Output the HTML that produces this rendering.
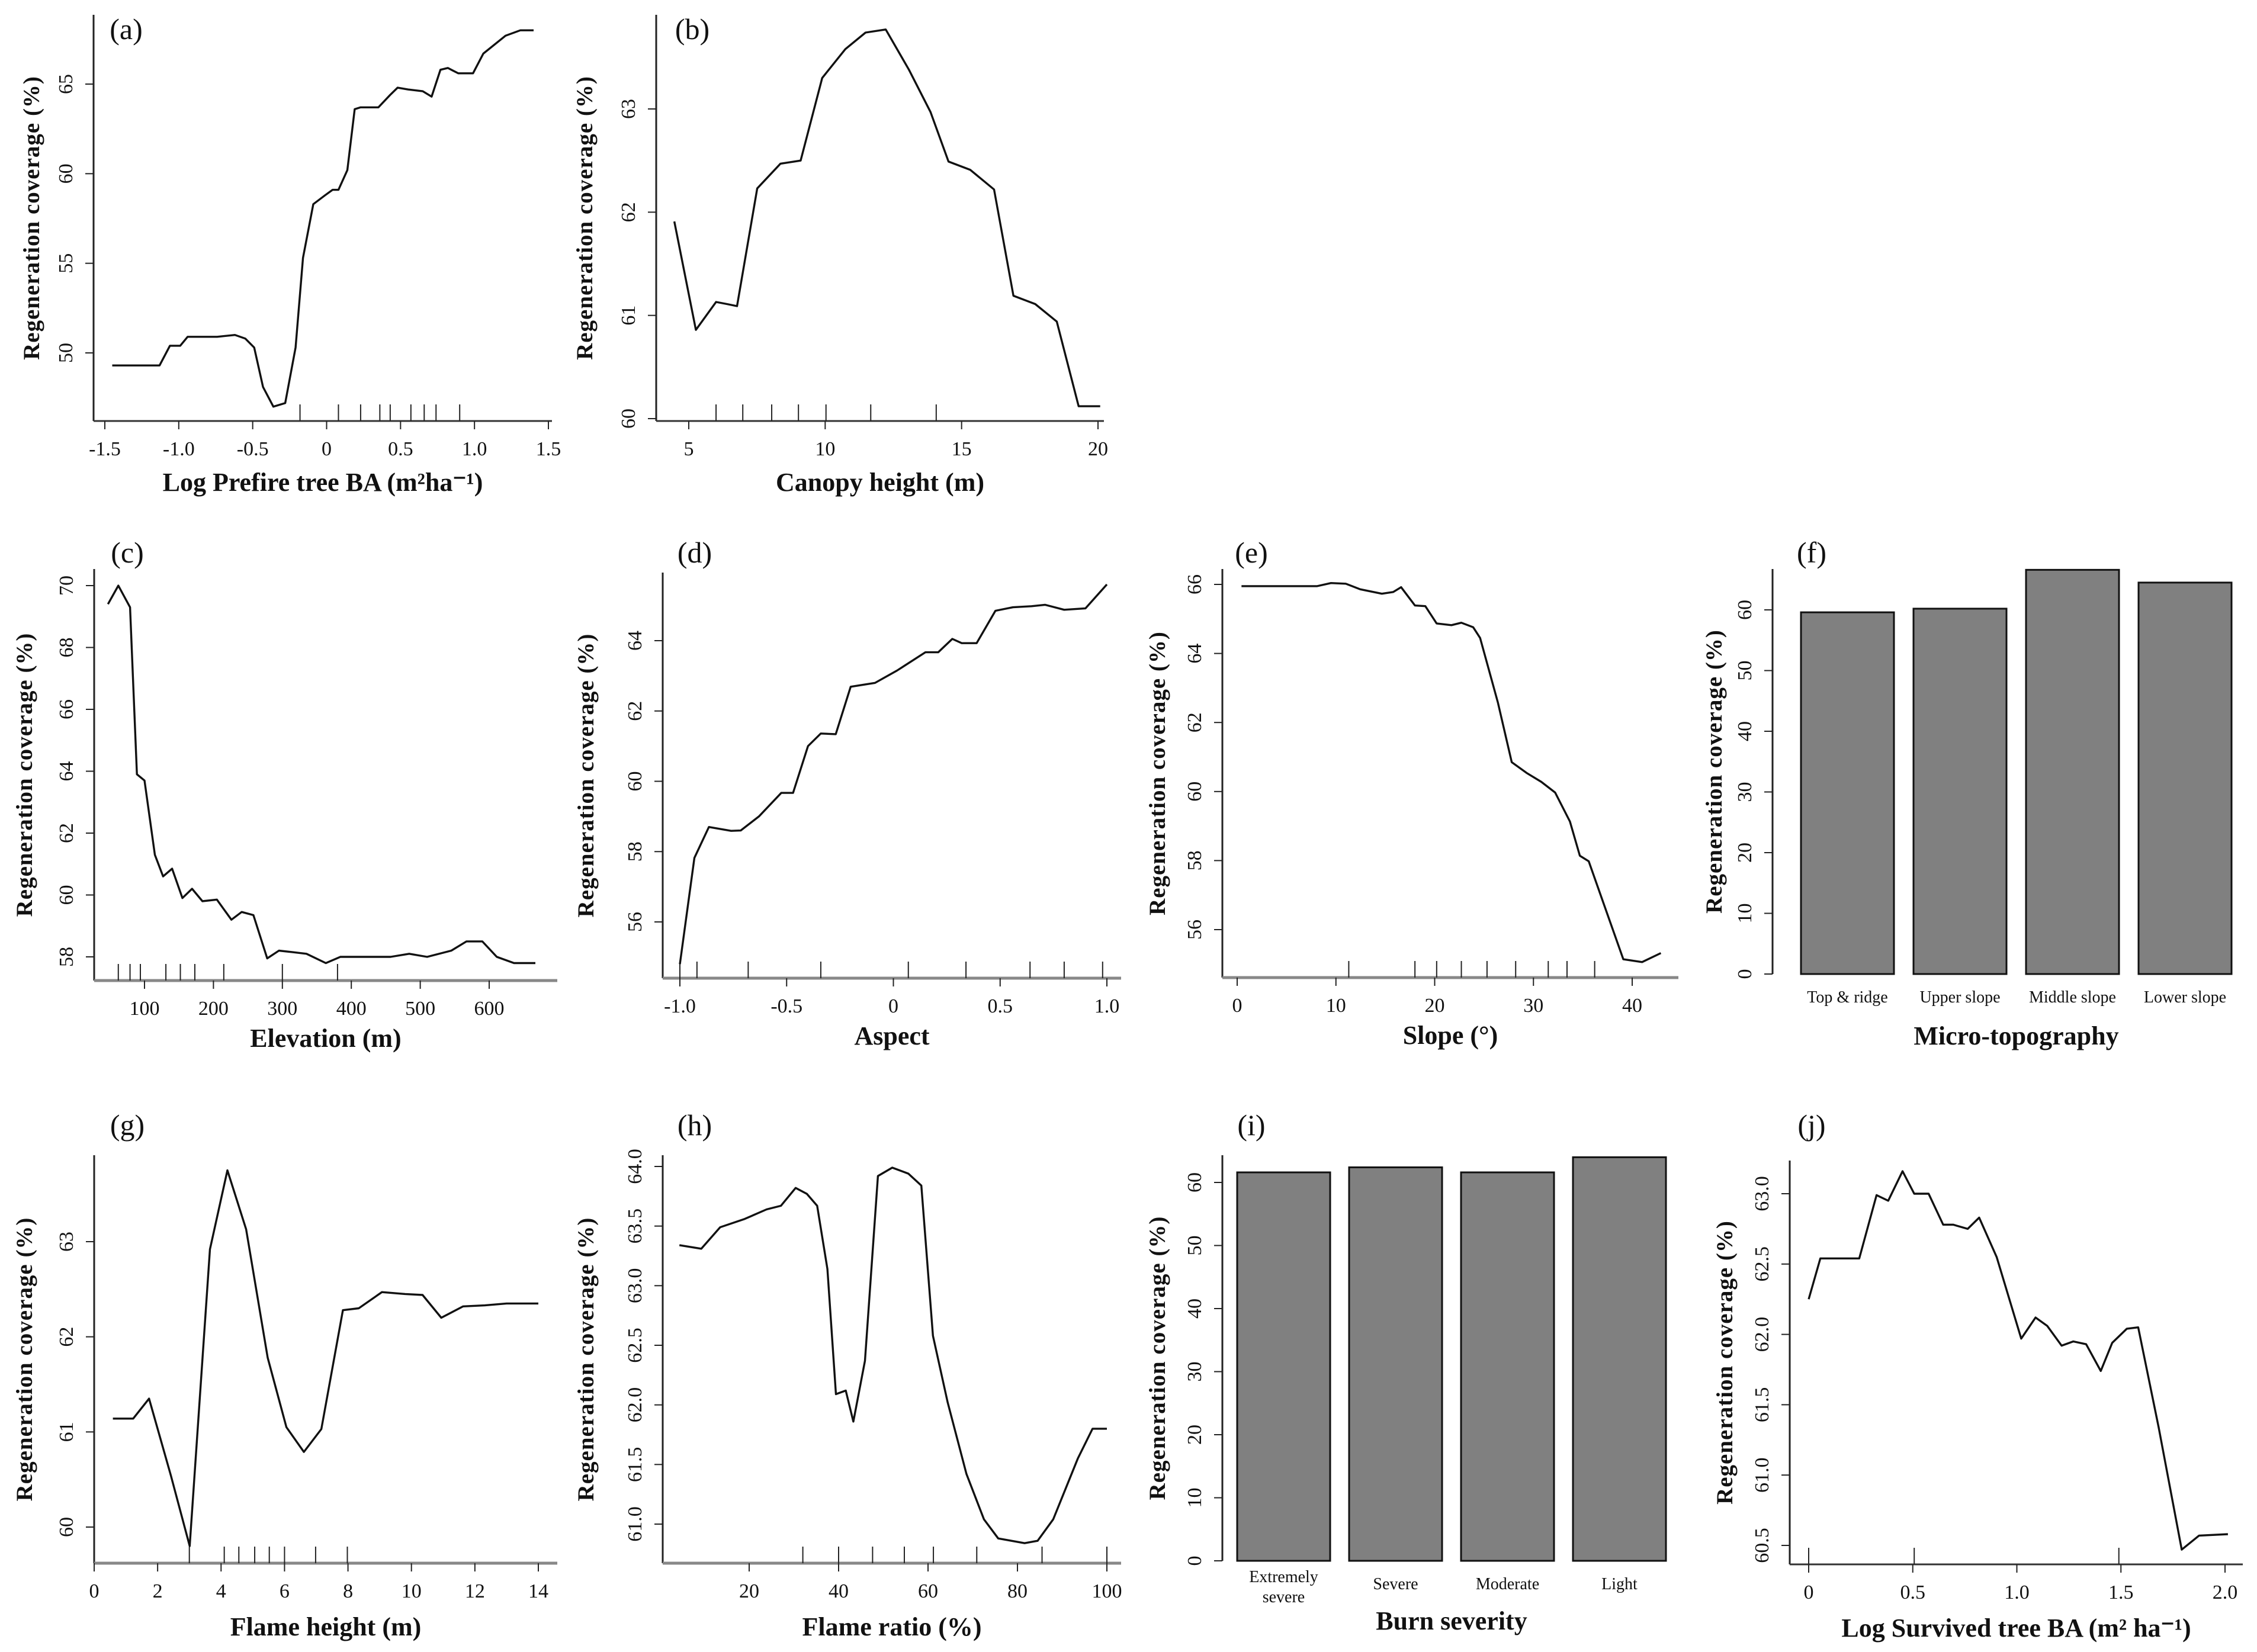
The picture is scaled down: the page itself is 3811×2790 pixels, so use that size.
<!DOCTYPE html>
<html><head><meta charset="utf-8"><style>
html,body{margin:0;padding:0;background:#fff;}
svg{display:block;}
text{font-family:"Liberation Serif",serif;fill:#111;}
.tick{font-size:34px;}
.ttl{font-size:44px;font-weight:bold;}
.ytl{font-size:39px;font-weight:bold;letter-spacing:1px;}
.plab{font-size:50px;}
.cat{font-size:28px;}
</style></head><body>
<svg id="chart" width="3811" height="2790" viewBox="0 0 3811 2790" xmlns="http://www.w3.org/2000/svg"></svg>
<script>
// ---------- data ----------
const aX=[-1.45,-1.13,-1.06,-0.99,-0.94,-0.74,-0.62,-0.55,-0.49,-0.43,-0.36,-0.28,-0.21,-0.16,-0.09,-0.01,0.04,0.08,0.14,0.19,0.23,0.35,0.43,0.48,0.55,0.65,0.71,0.77,0.82,0.89,0.99,1.06,1.21,1.31,1.40];
const aY=[49.3,49.3,50.4,50.4,50.9,50.9,51.0,50.8,50.3,48.1,47.0,47.2,50.3,55.3,58.3,58.8,59.1,59.1,60.2,63.6,63.7,63.7,64.4,64.8,64.7,64.6,64.3,65.8,65.9,65.6,65.6,66.7,67.7,68.0,68.0];
const aRug=[-0.18,0.08,0.23,0.36,0.43,0.57,0.66,0.74,0.90];
const aXTicks=[-1.5,-1.0,-0.5,0,0.5,1.0,1.5];
const aXLabels=["-1.5","-1.0","-0.5","0","0.5","1.0","1.5"];
const aYTicks=[50,55,60,65];

const bX=[4.47,5.26,6.0,6.4,6.77,7.51,8.36,9.1,9.89,10.74,11.48,12.22,13.07,13.86,14.52,15.32,16.19,16.9,17.7,18.49,19.29,20.08];
const bY=[61.91,60.86,61.13,61.11,61.09,62.23,62.47,62.5,63.3,63.58,63.74,63.77,63.38,62.97,62.49,62.41,62.22,61.19,61.11,60.94,60.12,60.12];
const bRug=[6.0,6.98,8.04,9.02,10.03,11.67,14.07];
const bXTicks=[5,10,15,20];
const bYTicks=[60,61,62,63];

const cX=[47,62,79,89,100,115,127,140,155,169,184,205,226,241,258,278,295,316,335,363,384,457,484,510,545,567,590,611,636,667];
const cY=[69.4,70.0,69.3,63.9,63.7,61.3,60.6,60.85,59.9,60.2,59.8,59.85,59.2,59.45,59.35,57.95,58.2,58.15,58.1,57.8,58.0,58.0,58.1,58.0,58.2,58.5,58.5,58.0,57.8,57.8];
const cRug=[62,79,94,131,152,173,215,300,380];
const cXTicks=[100,200,300,400,500,600];
const cYTicks=[58,60,62,64,66,68,70];

const dX=[-1.0,-0.932,-0.864,-0.76,-0.715,-0.63,-0.525,-0.47,-0.40,-0.34,-0.27,-0.20,-0.086,0.017,0.15,0.21,0.276,0.32,0.39,0.478,0.56,0.647,0.71,0.8,0.9,1.0];
const dY=[54.8,57.82,58.7,58.59,58.6,59.0,59.67,59.67,61.0,61.36,61.34,62.69,62.8,63.15,63.67,63.67,64.05,63.93,63.93,64.85,64.95,64.98,65.02,64.88,64.92,65.6];
const dRug=[-1.0,-0.92,-0.68,-0.34,0.07,0.34,0.64,0.8,0.98];
const dXTicks=[-1.0,-0.5,0,0.5,1.0];
const dXLabels=["-1.0","-0.5","0","0.5","1.0"];
const dYTicks=[56,58,60,62,64];

const eX=[0.44,8.1,9.5,11,12.45,14.65,15.8,16.6,18.0,19.05,20.2,21.7,22.7,23.9,24.6,26.4,27.8,29.3,30.8,32.2,33.7,34.7,35.6,37.4,39.1,41.0,42.9];
const eY=[65.95,65.95,66.04,66.02,65.86,65.73,65.78,65.92,65.39,65.37,64.87,64.82,64.89,64.76,64.45,62.58,60.85,60.54,60.28,59.97,59.13,58.14,57.98,56.52,55.14,55.06,55.32];
const eRug=[11.3,18.0,20.2,22.7,25.3,28.2,31.5,33.4,36.2];
const eXTicks=[0,10,20,30,40];
const eYTicks=[56,58,60,62,64,66];

const fCats=["Top & ridge","Upper slope","Middle slope","Lower slope"];
const fVals=[59.6,60.2,66.6,64.5];
const fYTicks=[0,10,20,30,40,50,60];

const gX=[0.59,1.23,1.73,2.42,3.01,3.65,4.2,4.79,5.47,6.06,6.61,7.16,7.84,8.34,9.07,9.8,10.35,10.94,11.63,12.31,13.0,14.0];
const gY=[61.14,61.14,61.35,60.54,59.8,62.92,63.75,63.13,61.78,61.05,60.79,61.03,62.28,62.3,62.47,62.45,62.44,62.2,62.32,62.33,62.35,62.35];
const gRug=[3.0,4.1,4.56,5.06,5.52,6.0,6.98,7.98];
const gXTicks=[0,2,4,6,8,10,12,14];
const gYTicks=[60,61,62,63];

const hX=[4.4,9.3,13.5,19,23.9,27.1,30.4,32.9,35.2,37.5,39.4,41.6,43.3,45.9,48.8,52,55.6,58.5,61.1,64.4,68.6,72.5,75.7,81.6,84.5,88,93.5,96.8,100];
const hY=[63.34,63.31,63.49,63.56,63.64,63.67,63.82,63.77,63.67,63.14,62.09,62.12,61.86,62.37,63.92,63.99,63.94,63.84,62.58,62.02,61.42,61.04,60.88,60.84,60.86,61.04,61.55,61.8,61.8];
const hRug=[32,40,47.6,54.7,61.2,70.9,85.5,100];
const hXTicks=[20,40,60,80,100];
const hYTicks=[61.0,61.5,62.0,62.5,63.0,63.5,64.0];
const hYLabels=["61.0","61.5","62.0","62.5","63.0","63.5","64.0"];

const iCats=["Extremely severe","Severe","Moderate","Light"];
const iVals=[61.6,62.4,61.6,64.0];
const iYTicks=[0,10,20,30,40,50,60];

const jX=[0,0.056,0.243,0.326,0.382,0.451,0.507,0.576,0.646,0.694,0.764,0.819,0.903,1.021,1.09,1.146,1.215,1.271,1.333,1.403,1.458,1.528,1.583,1.681,1.792,1.875,2.014];
const jY=[62.25,62.54,62.54,62.99,62.95,63.16,63.0,63.0,62.78,62.78,62.75,62.83,62.55,61.97,62.12,62.06,61.92,61.95,61.93,61.74,61.94,62.04,62.05,61.34,60.47,60.57,60.58];
const jRug=[0,0.507,1.49];
const jXTicks=[0,0.5,1.0,1.5,2.0];
const jXLabels=["0","0.5","1.0","1.5","2.0"];
const jYTicks=[60.5,61.0,61.5,62.0,62.5,63.0];
const jYLabels=["60.5","61.0","61.5","62.0","62.5","63.0"];

// ---------- drawing ----------
const NS="http://www.w3.org/2000/svg";
const svg=document.getElementById('chart');
function mk(tag,attrs,parent){const e=document.createElementNS(NS,tag);for(const k in attrs)e.setAttribute(k,attrs[k]);(parent||svg).appendChild(e);return e;}
function lin(d0,d1,p0,p1){return v=>p0+(v-d0)*(p1-p0)/(d1-d0);}

function yAxis(g,p,y){
  const ax=mk('line',{x1:p.ax,y1:p.top,x2:p.ax,y2:p.axisY,stroke:'#222','stroke-width':3},g);
  
  
  p.yTicks.forEach((v,i)=>{
    const t=mk('line',{x1:p.ax-14,y1:y(v),x2:p.ax,y2:y(v),stroke:'#222','stroke-width':2},g);
    
    
    const lx=p.ax-36;
    const tx=mk('text',{x:lx,y:y(v),class:'tick','text-anchor':'middle',transform:`rotate(-90 ${lx} ${y(v)})`},g);
    tx.textContent=p.yLabels?p.yLabels[i]:String(v);
    
    
  });
  const tx=p.ax-p.yt, ty=(p.top+p.axisY)/2;
  const yt=mk('text',{x:tx,y:ty,class:'ytl','text-anchor':'middle',transform:`rotate(-90 ${tx} ${ty})`},g);
  yt.textContent='Regeneration coverage (%)';
  
  
  const pl=mk('text',{x:p.lx,y:p.ly,class:'plab','text-anchor':'middle'},g);
  pl.textContent=p.label;
  
  
}

function linePanel(p){
  const g=mk('g',{});
  
  
  const x=lin(p.xd[0],p.xd[1],p.xp[0],p.xp[1]);
  const y=lin(p.yd[0],p.yd[1],p.yp[0],p.yp[1]);
  yAxis(g,p,y);
  const xa=mk('line',{x1:p.xl[0],y1:p.axisY,x2:p.xl[1],y2:p.axisY,stroke:p.xc,'stroke-width':p.xw},g);
  
  
  p.xTicks.forEach((v,i)=>{
    const t=mk('line',{x1:x(v),y1:p.axisY,x2:x(v),y2:p.axisY+14,stroke:'#222','stroke-width':2},g);
    
    
    const tx=mk('text',{x:x(v),y:p.axisY+58,class:'tick','text-anchor':'middle'},g);
    tx.textContent=p.xLabels?p.xLabels[i]:String(v);
    
    
  });
  const xt=mk('text',{x:(p.xl[0]+p.xl[1])/2,y:p.axisY+p.tOff,class:'ttl','text-anchor':'middle'},g);
  xt.textContent=p.title;
  
  
  p.rug.forEach(v=>{
    const r=mk('line',{x1:x(v),y1:p.axisY-28,x2:x(v),y2:p.axisY,stroke:'#222','stroke-width':2},g);
    
    
  });
  const pts=p.xs.map((v,i)=>x(v).toFixed(1)+','+y(p.ys[i]).toFixed(1)).join(' ');
  const pl=mk('polyline',{points:pts,fill:'none',stroke:'#111','stroke-width':3.4,'stroke-linejoin':'round'},g);
  
  
}

function barPanel(p){
  const g=mk('g',{});
  
  
  const y=lin(0,60,p.y0,p.y60);
  yAxis(g,p,y);
  p.vals.forEach((v,i)=>{
    const bx=p.start+i*p.step;
    const r=mk('rect',{x:bx,y:y(v),width:p.bw,height:y(0)-y(v),fill:'#808080',stroke:'#111','stroke-width':3},g);
    
    
    const cx=bx+p.bw/2;
    const words=p.wrap&&p.cats[i].includes(' ')?p.cats[i].split(' '):[p.cats[i]];
    words.forEach((w,k)=>{
      const t=mk('text',{x:cx,y:p.catY+(words.length>1?(k*34-12):0),class:'cat','text-anchor':'middle'},g);
      t.textContent=w;
      
      
    });
  });
  const xt=mk('text',{x:p.start+(p.step*3+p.bw)/2,y:p.titleY,class:'ttl','text-anchor':'middle'},g);
  xt.textContent=p.title;
  
  
}

linePanel({label:'(a)',lx:213,ly:66,ax:158,top:25,axisY:711,yt:92,xs:aX,ys:aY,rug:aRug,xTicks:aXTicks,xLabels:aXLabels,yTicks:aYTicks,
  xd:[-1.5,1.5],xp:[177,926],yd:[50,65],yp:[596,142],xl:[158,932],xc:'#333',xw:3,tOff:118,title:'Log Prefire tree BA (m²ha⁻¹)'});
linePanel({label:'(b)',lx:1169,ly:66,ax:1108,top:25,axisY:711,yt:108,xs:bX,ys:bY,rug:bRug,xTicks:bXTicks,yTicks:bYTicks,
  xd:[5,20],xp:[1163,1854],yd:[60,63],yp:[707,184],xl:[1108,1864],xc:'#333',xw:3,tOff:118,title:'Canopy height (m)'});
linePanel({label:'(c)',lx:215,ly:950,ax:159,top:961,axisY:1656,yt:105,xs:cX,ys:cY,rug:cRug,xTicks:cXTicks,yTicks:cYTicks,
  xd:[100,600],xp:[244,826],yd:[58,70],yp:[1616,989],xl:[159,941],xc:'#888',xw:5,tOff:112,title:'Elevation (m)'});
linePanel({label:'(d)',lx:1173,ly:950,ax:1119,top:967,axisY:1652,yt:117,xs:dX,ys:dY,rug:dRug,xTicks:dXTicks,xLabels:dXLabels,yTicks:dYTicks,
  xd:[-1,1],xp:[1148,1869],yd:[56,64],yp:[1557,1082],xl:[1119,1893],xc:'#888',xw:5,tOff:112,title:'Aspect'});
linePanel({label:'(e)',lx:2113,ly:950,ax:2064,top:961,axisY:1651,yt:97,xs:eX,ys:eY,rug:eRug,xTicks:eXTicks,yTicks:eYTicks,
  xd:[0,40],xp:[2089,2756],yd:[56,66],yp:[1570,987],xl:[2064,2834],xc:'#888',xw:5,tOff:112,title:'Slope (°)'});
barPanel({label:'(f)',lx:3059,ly:950,ax:2993,top:961,axisY:1645,yt:86,yTicks:fYTicks,cats:fCats,vals:fVals,
  y0:1645,y60:1030,start:3041,step:190,bw:157,catY:1693,titleY:1764,wrap:false,title:'Micro-topography'});
linePanel({label:'(g)',lx:215,ly:1917,ax:159,top:1951,axisY:2640,yt:105,xs:gX,ys:gY,rug:gRug,xTicks:gXTicks,yTicks:gYTicks,
  xd:[0,14],xp:[159,909],yd:[60,63],yp:[2579,2097],xl:[159,941],xc:'#888',xw:5,tOff:122,title:'Flame height (m)'});
linePanel({label:'(h)',lx:1173,ly:1917,ax:1119,top:1951,axisY:2640,yt:117,xs:hX,ys:hY,rug:hRug,xTicks:hXTicks,yTicks:hYTicks,yLabels:hYLabels,
  xd:[20,100],xp:[1265,1869],yd:[61,64],yp:[2574,1970],xl:[1119,1893],xc:'#888',xw:5,tOff:122,title:'Flame ratio (%)'});
barPanel({label:'(i)',lx:2113,ly:1917,ax:2064,top:1951,axisY:2636,yt:97,yTicks:iYTicks,cats:iCats,vals:iVals,
  y0:2636,y60:1997,start:2089,step:189,bw:157,catY:2684,titleY:2752,wrap:true,title:'Burn severity'});
linePanel({label:'(j)',lx:3059,ly:1917,ax:3022,top:1960,axisY:2642,yt:97,xs:jX,ys:jY,rug:jRug,xTicks:jXTicks,xLabels:jXLabels,yTicks:jYTicks,yLabels:jYLabels,
  xd:[0,2],xp:[3054,3757],yd:[60.5,63],yp:[2610,2016],xl:[3022,3787],xc:'#333',xw:3,tOff:122,title:'Log Survived tree BA (m² ha⁻¹)'});
</script>
</body></html>
